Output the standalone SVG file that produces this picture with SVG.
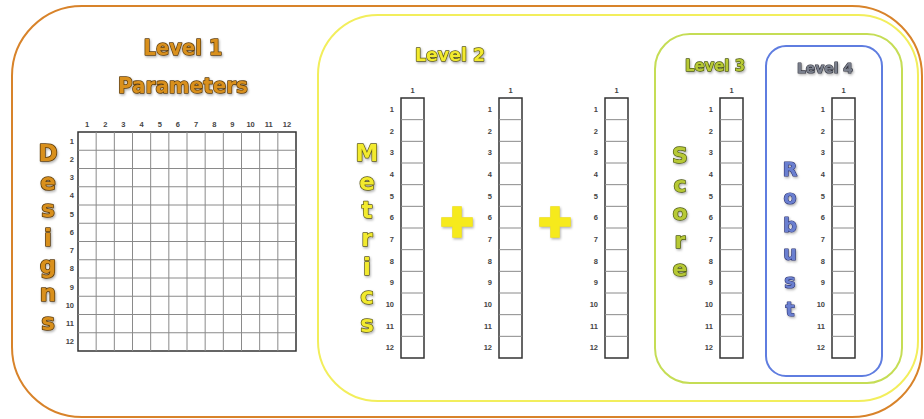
<svg xmlns="http://www.w3.org/2000/svg" xmlns:xlink="http://www.w3.org/1999/xlink" width="924" height="419" viewBox="0 0 924 419">
<style>
.num{font-family:"Liberation Sans",Arial,sans-serif;font-size:7.5px;font-weight:bold;fill:#444}
.title{font-family:"DejaVu Sans","Liberation Sans",sans-serif;font-weight:bold;paint-order:stroke;stroke-linejoin:round;text-anchor:middle}
.t1{fill:#d9901f;stroke:#5e3d0c;stroke-width:1.6px}
.t2{fill:#f2ea2e;stroke:#5c5818;stroke-width:1.4px}
.t3{fill:#b7c934;stroke:#4d5a14;stroke-width:1.4px}
.t4{fill:#7a7f8c;stroke:#30323c;stroke-width:1.2px}
.t4b{fill:#6a7fd0;stroke:#2e3470;stroke-width:1.2px}
.gridIn{stroke:#8a8a8a;stroke-width:1;fill:none}
.gridOut{stroke:#333;stroke-width:1.5;fill:none}
.plus{fill:#f6ea1c;stroke:#e8d810;stroke-width:0.5}
</style>
<defs>
<g id="col">
<rect class="gridOut" x="0" y="0" width="23" height="260"/>
<path class="gridIn" d="M0 21.67H23M0 43.33H23M0 65H23M0 86.67H23M0 108.33H23M0 130H23M0 151.67H23M0 173.33H23M0 195H23M0 216.67H23M0 238.33H23"/>
<text class="num" x="11.5" y="-5" text-anchor="middle">1</text>
<g text-anchor="end">
<text class="num" x="-7" y="13.8">1</text>
<text class="num" x="-7" y="35.5">2</text>
<text class="num" x="-7" y="57.2">3</text>
<text class="num" x="-7" y="78.8">4</text>
<text class="num" x="-7" y="100.5">5</text>
<text class="num" x="-7" y="122.2">6</text>
<text class="num" x="-7" y="143.8">7</text>
<text class="num" x="-7" y="165.5">8</text>
<text class="num" x="-7" y="187.2">9</text>
<text class="num" x="-7" y="208.8">10</text>
<text class="num" x="-7" y="230.5">11</text>
<text class="num" x="-7" y="252.2">12</text>
</g>
</g>
<path id="plusShape" d="M-4.5 -15.5H4.5V-4.5H15.5V4.5H4.5V15.5H-4.5V4.5H-15.5V-4.5H-4.5Z"/>
<filter id="sh" x="-20%" y="-20%" width="140%" height="140%">
<feDropShadow dx="1" dy="1.5" stdDeviation="1" flood-color="#000" flood-opacity="0.3"/>
</filter>
</defs>

<rect width="924" height="419" fill="#fff"/>

<g id="frames" fill="none">
<rect x="12" y="6" width="910" height="411" rx="70" stroke="#d8832a" stroke-width="2"/>
<rect x="318" y="15" width="600" height="386" rx="60" stroke="#f2ee5c" stroke-width="2"/>
<rect x="655" y="34" width="247" height="349" rx="35" stroke="#c5dd55" stroke-width="2"/>
<rect x="766" y="46" width="116" height="330" rx="20" stroke="#5f7de0" stroke-width="2"/>
</g>

<g id="level1">
<text class="title t1" x="183" y="55" font-size="22" textLength="79" lengthAdjust="spacingAndGlyphs" filter="url(#sh)">Level 1</text>
<text class="title t1" x="183" y="93" font-size="22" textLength="130" lengthAdjust="spacingAndGlyphs" filter="url(#sh)">Parameters</text>
<g class="title t1" font-size="23" filter="url(#sh)">
<text x="48" y="161">D</text>
<text x="48" y="190">e</text>
<text x="48" y="217">s</text>
<text x="48" y="246">i</text>
<text x="48" y="273">g</text>
<text x="48" y="301">n</text>
<text x="48" y="330">s</text>
</g>
<g id="grid">
<rect class="gridOut" x="78" y="132" width="218" height="219"/>
<path class="gridIn" d="M96.17 132V351M114.33 132V351M132.5 132V351M150.67 132V351M168.83 132V351M187 132V351M205.17 132V351M223.33 132V351M241.5 132V351M259.67 132V351M277.83 132V351M78 150.25H296M78 168.5H296M78 186.75H296M78 205H296M78 223.25H296M78 241.5H296M78 259.75H296M78 278H296M78 296.25H296M78 314.5H296M78 332.75H296"/>
<g text-anchor="middle">
<text class="num" x="87.1" y="127">1</text>
<text class="num" x="105.3" y="127">2</text>
<text class="num" x="123.4" y="127">3</text>
<text class="num" x="141.6" y="127">4</text>
<text class="num" x="159.8" y="127">5</text>
<text class="num" x="177.9" y="127">6</text>
<text class="num" x="196.1" y="127">7</text>
<text class="num" x="214.3" y="127">8</text>
<text class="num" x="232.4" y="127">9</text>
<text class="num" x="250.6" y="127">10</text>
<text class="num" x="268.8" y="127">11</text>
<text class="num" x="286.9" y="127">12</text>
</g>
<g text-anchor="end">
<text class="num" x="74" y="143.6">1</text>
<text class="num" x="74" y="161.9">2</text>
<text class="num" x="74" y="180.1">3</text>
<text class="num" x="74" y="198.4">4</text>
<text class="num" x="74" y="216.6">5</text>
<text class="num" x="74" y="234.9">6</text>
<text class="num" x="74" y="253.1">7</text>
<text class="num" x="74" y="271.4">8</text>
<text class="num" x="74" y="289.6">9</text>
<text class="num" x="74" y="307.9">10</text>
<text class="num" x="74" y="326.1">11</text>
<text class="num" x="74" y="344.4">12</text>
</g>
</g>
</g>

<g id="level2">
<text class="title t2" x="450" y="61" font-size="17" textLength="70" lengthAdjust="spacingAndGlyphs" filter="url(#sh)">Level 2</text>
<g class="title t2" font-size="23" filter="url(#sh)">
<text x="367" y="161">M</text>
<text x="367" y="190">e</text>
<text x="367" y="218">t</text>
<text x="367" y="246">r</text>
<text x="367" y="275">i</text>
<text x="367" y="304">c</text>
<text x="367" y="332">s</text>
</g>
<use xlink:href="#col" x="401" y="98"/>
<use xlink:href="#col" x="499" y="98"/>
<use xlink:href="#col" x="605" y="98"/>
<use xlink:href="#plusShape" class="plus" x="457" y="222" filter="url(#sh)"/>
<use xlink:href="#plusShape" class="plus" x="555" y="222" filter="url(#sh)"/>
</g>

<g id="level3">
<text class="title t3" x="715" y="71" font-size="15" textLength="60" lengthAdjust="spacingAndGlyphs" filter="url(#sh)">Level 3</text>
<g class="title t3" font-size="22" filter="url(#sh)">
<text x="680" y="163">S</text>
<text x="680" y="192">c</text>
<text x="680" y="220">o</text>
<text x="680" y="248">r</text>
<text x="680" y="276">e</text>
</g>
<use xlink:href="#col" x="720" y="98"/>
</g>

<g id="level4">
<text class="title t4" x="825" y="73" font-size="14" textLength="56" lengthAdjust="spacingAndGlyphs" filter="url(#sh)">Level 4</text>
<g class="title t4b" font-size="19" filter="url(#sh)">
<text x="790" y="176">R</text>
<text x="790" y="204">o</text>
<text x="790" y="232">b</text>
<text x="790" y="260">u</text>
<text x="790" y="288">s</text>
<text x="790" y="316">t</text>
</g>
<use xlink:href="#col" x="832" y="98"/>
</g>
</svg>
